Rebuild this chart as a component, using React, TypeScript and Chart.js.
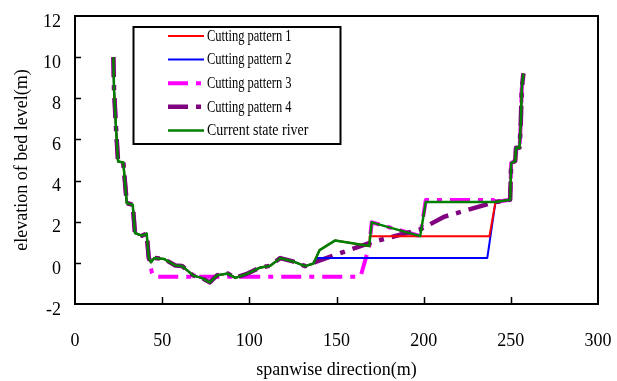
import React, { useEffect, useRef } from 'react';
import { Chart, registerables } from 'chart.js';

Chart.register(...registerables);

// ---- data (metres) ----
const xTickValues = [0, 50, 100, 150, 200, 250, 300];
const yTickValues = [-2, 0, 2, 4, 6, 8, 10, 12];

// left bank (shared by all)
const leftBankX = [22.0, 22.4, 23.5, 24.7, 27.7, 29.7, 33.1, 34.4, 38.3, 41.1, 42.3];
const leftBankY = [10.0, 8.4, 6.6, 4.93, 4.88, 2.9, 2.83, 1.45, 1.32, 1.42, 0.24];

// channel bed of the current river
const channelX = [43.6, 45.5, 51, 53.5, 57.5, 61.4, 67.9, 72.6, 77.3, 81.6, 87.6, 92, 99, 105.8, 112, 117.7, 125, 132, 136.8];
const channelY = [0.03, 0.24, 0.19, 0.07, -0.13, -0.15, -0.62, -0.73, -0.95, -0.6, -0.52, -0.73, -0.52, -0.24, -0.14, 0.23, 0.07, -0.16, -0.03];

// shoal of the current river
const shoalX = [140.3, 149.3, 168.8, 170.2, 198, 201.2];
const shoalY = [0.62, 1.09, 0.82, 1.97, 1.3, 2.96];

// right bank (shared by all)
const rightBankX = [241.2, 249.6, 250.2, 252.5, 253, 255, 255.7, 256.3, 257.2];
const rightBankY = [2.96, 3.07, 4.85, 4.95, 5.6, 5.6, 6.8, 8.5, 9.2];

// cutting pattern 1
const p1MidX = [140.3, 149.3, 168.8, 169, 237.7];
const p1MidY = [0.62, 1.09, 0.82, 1.29, 1.29];

// cutting pattern 2
const p2MidX = [138.6, 236.5];
const p2MidY = [0.24, 0.24];

// cutting pattern 3
const p3MidX = [44.2, 45.3, 163.8, 168.8, 170.2, 198, 201.2, 240];
const p3MidY = [-0.5, -0.67, -0.67, 0.82, 1.97, 1.3, 3.05, 3.05];

// cutting pattern 4
const p4MidX = [138, 170, 198, 212];
const p4MidY = [0.05, 1.0, 1.62, 2.25];

const seriesLabels = ['Cutting pattern 1', 'Cutting pattern 2', 'Cutting pattern 3', 'Cutting pattern 4', 'Current state river'];

const pts = (xs: number[], ys: number[]) => xs.map((x, i) => ({ x, y: ys[i] }));

const currentData = [
  ...pts(leftBankX, leftBankY),
  ...pts(channelX, channelY),
  ...pts(shoalX, shoalY),
  ...pts(rightBankX, rightBankY),
];
const p1Data = [...pts(leftBankX, leftBankY), ...pts(channelX, channelY), ...pts(p1MidX, p1MidY), ...pts(rightBankX, rightBankY)];
const p2Data = [...pts(leftBankX, leftBankY), ...pts(channelX, channelY), ...pts(p2MidX, p2MidY), ...pts(rightBankX, rightBankY)];
const p3Data = [...pts(leftBankX, leftBankY), ...pts(p3MidX, p3MidY), ...pts(rightBankX, rightBankY)];
const p4Data = [...pts(leftBankX, leftBankY), ...pts(channelX, channelY), ...pts(p4MidX, p4MidY), ...pts(rightBankX, rightBankY)];

const FONT = "'Liberation Serif', 'Times New Roman', serif";

const framePlugin = {
  id: 'frameAndTicks',
  afterDatasetsDraw(chart: any) {
    const { ctx, chartArea } = chart;
    const { left, right, top, bottom } = chartArea;
    const xs = chart.scales.x;
    const ys = chart.scales.y;
    ctx.save();
    ctx.strokeStyle = '#000';
    ctx.lineWidth = 1.5;
    ctx.beginPath();
    xTickValues.forEach((v) => {
      if (v > xs.min && v < xs.max) {
        const px = Math.round(xs.getPixelForValue(v)) + 0.5;
        ctx.moveTo(px, bottom);
        ctx.lineTo(px, bottom - 7);
      }
    });
    yTickValues.forEach((v) => {
      if (v > ys.min && v < ys.max) {
        const py = Math.round(ys.getPixelForValue(v)) + 0.5;
        ctx.moveTo(left, py);
        ctx.lineTo(left + 6, py);
      }
    });
    ctx.stroke();
    ctx.lineWidth = 2;
    ctx.strokeRect(left, top, right - left, bottom - top);
    ctx.restore();
  },
};

const legendPlugin = {
  id: 'boxLegend',
  afterDraw(chart: any) {
    const { ctx } = chart;
    const bx = 133.5, by = 27, bw = 207, bh = 117;
    ctx.save();
    ctx.fillStyle = '#fff';
    ctx.fillRect(bx, by, bw, bh);
    ctx.strokeStyle = '#000';
    ctx.lineWidth = 2;
    ctx.strokeRect(bx, by, bw, bh);
    chart.data.datasets.forEach((ds: any, i: number) => {
      const y = 36 + i * 23.6;
      ctx.beginPath();
      ctx.strokeStyle = ds.borderColor;
      ctx.lineWidth = ds.borderWidth;
      ctx.setLineDash(ds.borderDash || []);
      ctx.moveTo(168, y);
      ctx.lineTo(204, y);
      ctx.stroke();
      ctx.setLineDash([]);
      ctx.fillStyle = '#000';
      ctx.font = `16px ${FONT}`;
      ctx.textBaseline = 'middle';
      ctx.textAlign = 'left';
      const text = ds.label as string;
      const natural = ctx.measureText(text).width;
      const factor = text.startsWith('Cutting') ? 0.78 : 0.87;
      ctx.fillText(text, 207, y + 0.5, natural * factor);
    });
    ctx.restore();
  },
};

export default function App() {
  const ref = useRef<HTMLCanvasElement | null>(null);
  useEffect(() => {
    document.body.style.margin = '0';
    const canvas = ref.current!;
    const chart = new Chart(canvas, {
      type: 'line',
      data: {
        datasets: [
          { label: seriesLabels[0], data: p1Data, borderColor: '#ff0000', borderWidth: 2, order: 1 },
          { label: seriesLabels[1], data: p2Data, borderColor: '#0000ff', borderWidth: 2, order: 2 },
          { label: seriesLabels[2], data: p3Data, borderColor: '#ff00ff', borderWidth: 4, borderDash: [20, 8, 5, 8], order: 4 },
          { label: seriesLabels[3], data: p4Data, borderColor: '#800080', borderWidth: 4.5, borderDash: [20, 8, 5, 8], order: 3 },
          { label: seriesLabels[4], data: currentData, borderColor: '#008000', borderWidth: 2.5, order: 0 },
        ] as any,
      },
      options: {
        animation: false,
        responsive: false,
        elements: { point: { radius: 0 }, line: { tension: 0, borderJoinStyle: 'round' as any } },
        layout: { padding: { top: 16, right: 19, left: 0, bottom: 0 } },
        plugins: { legend: { display: false }, tooltip: { enabled: false } },
        scales: {
          x: {
            type: 'linear',
            min: 0,
            max: 300,
            afterFit: (s: any) => { s.height = 77; s.paddingLeft = 0; s.paddingRight = 0; },
            afterBuildTicks: (s: any) => { s.ticks = xTickValues.map((v) => ({ value: v })); },
            grid: { display: false, drawTicks: false },
            border: { display: false },
            ticks: { color: '#000', font: { family: FONT, size: 18 }, padding: 26, maxRotation: 0 },
            title: { display: true, text: 'spanwise direction(m)', color: '#000', font: { family: FONT, size: 18 }, padding: { top: 0, bottom: 0 } },
          },
          y: {
            type: 'linear',
            min: -2,
            max: 12,
            afterFit: (s: any) => { s.width = 75; s.paddingTop = 0; s.paddingBottom = 0; },
            afterBuildTicks: (s: any) => { s.ticks = yTickValues.map((v) => ({ value: v })); },
            grid: { display: false, drawTicks: false },
            border: { display: false },
            ticks: { color: '#000', font: { family: FONT, size: 18 }, padding: 14, labelOffset: 6 },
            title: { display: true, text: 'elevation of bed level(m)', color: '#000', font: { family: FONT, size: 18 }, padding: { top: 11, bottom: 0 } },
          },
        },
      } as any,
      plugins: [framePlugin, legendPlugin],
    });
    return () => chart.destroy();
  }, []);
  return (
    <div style={{ width: 617, height: 381 }}>
      <canvas ref={ref} width={617} height={381} style={{ display: 'block' }} />
    </div>
  );
}
